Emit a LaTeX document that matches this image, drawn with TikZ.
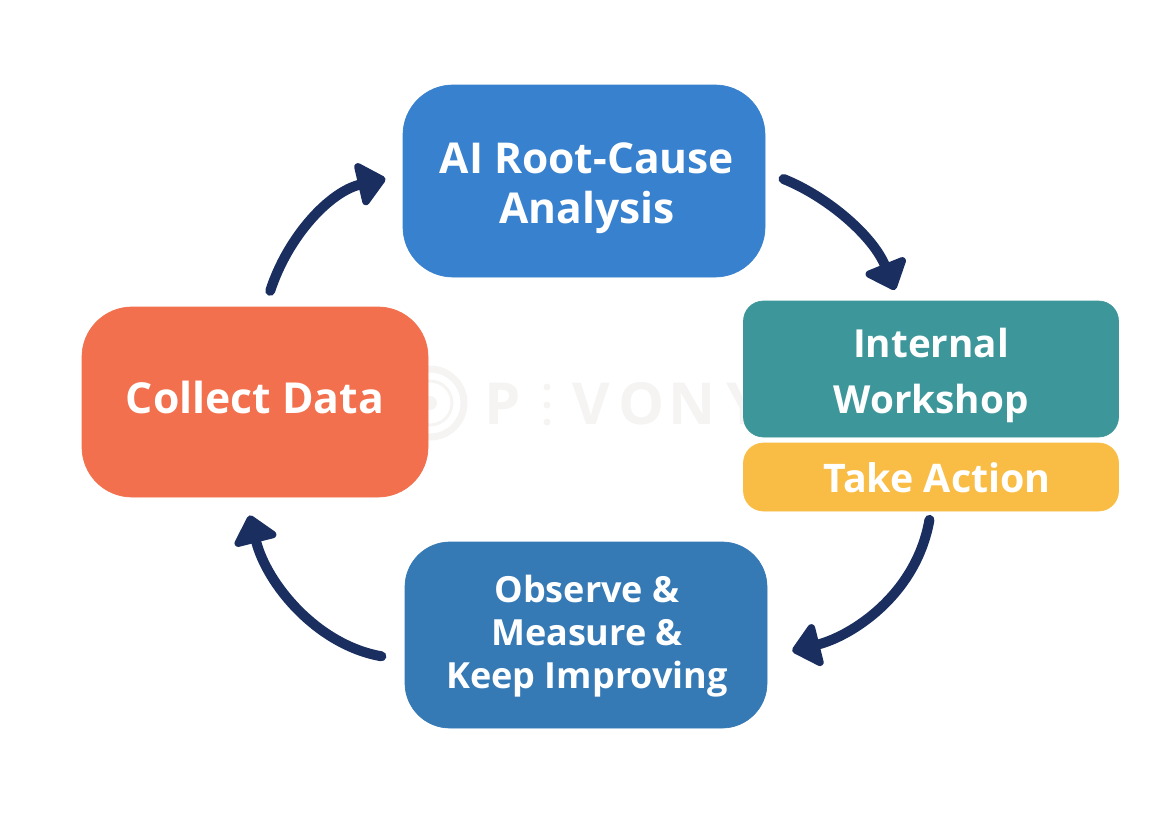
\documentclass[tikz,border=0pt]{standalone}
\usepackage{fontspec}
\setmainfont{Open Sans}
\usetikzlibrary{arrows.meta}

\def\u{0.02cm}

\definecolor{bluetop}{HTML}{3781CE}
\definecolor{bluelow}{HTML}{3579B5}
\definecolor{orangebox}{HTML}{F2704D}
\definecolor{tealbox}{HTML}{3D9699}
\definecolor{yellowbox}{HTML}{F9BD45}
\definecolor{navyline}{HTML}{1A2F5F}
\definecolor{wmarkgray}{HTML}{F5F4F3}

\tikzset{
  stagebox/.style={draw=#1, fill=#1, inner sep=0pt, outer sep=0pt},
  boxtext/.style={text=white, align=center, inner sep=0pt},
  looparrow/.style={draw=navyline, line width=10*\u, line cap=round,
    -{Triangle[width=50*\u, length=30*\u, round]}},
  wmark/.style={text=wmarkgray, font=\fontsize{33}{33}\selectfont\bfseries, inner sep=0pt}
}

\begin{document}
\begin{tikzpicture}[x=\u, y=-\u]
  \useasboundingbox (0,0) rectangle (1166,832);

  % watermark behind the boxes
  \draw[wmarkgray, line width=7*\u] (430,403) circle (34);
  \draw[wmarkgray, line width=3*\u] (430,403) circle (22);
  \fill[wmarkgray] (430,403) circle (7);
  \foreach \x/\c in {503/P,591/V,642/O,692/N,745/Y}
    \node[wmark] (mark\c) at (\x,404) {\c};
  \foreach \y in {387,405,422}
    \fill[wmarkgray] (547,\y) circle (3.5);

  % the five boxes
  \node[stagebox=bluetop, rounded corners=50*\u, minimum width=362*\u, minimum height=192*\u] (analysis) at (584,181) {};
  \node[stagebox=tealbox, rounded corners=20*\u, minimum width=375*\u, minimum height=136*\u] (workshop) at (931,369) {};
  \node[stagebox=yellowbox, rounded corners=20*\u, minimum width=375*\u, minimum height=68*\u] (action) at (931,477) {};
  \node[stagebox=bluelow, rounded corners=45*\u, minimum width=362*\u, minimum height=186*\u] (observe) at (586,635) {};
  \node[stagebox=orangebox, rounded corners=50*\u, minimum width=346*\u, minimum height=190*\u] (collect) at (255,402) {};

  % box texts
  \node[boxtext, font=\fontsize{24.2}{28.5}\selectfont\bfseries] (analysistext) at (587,188) {AI Root-Cause\\Analysis};
  \node[boxtext, font=\fontsize{22}{32}\selectfont\bfseries] (workshoptext) at (931,375.5) {Internal\\Workshop};
  \node[boxtext, font=\fontsize{22.4}{26}\selectfont\bfseries] (actiontext) at (937,478) {Take Action};
  \node[boxtext, font=\fontsize{20.5}{24.5}\selectfont\bfseries] (observetext) at (587,636) {Observe \&\\Measure \&\\Keep Improving};
  \node[boxtext, font=\fontsize{24.3}{28}\selectfont\bfseries] (collecttext) at (255,397) {Collect Data};

  % arrows round the loop
  \draw[looparrow, shorten <=20*\u, shorten >=12*\u, looseness=0.95] (analysis.3) to[out=-22, in=112] (workshop.115);
  \draw[looparrow, shorten <=9*\u, shorten >=26*\u] (action.south) to[out=-100, in=14] (observe.-7.2);
  \draw[looparrow, shorten <=24*\u, shorten >=19*\u] (observe.188) to[out=170, in=-76] (collect.264);
  \draw[looparrow, shorten <=17*\u, shorten >=18*\u] (collect.84) to[out=72, in=-167] (analysis.178.4);
\end{tikzpicture}
\end{document}
